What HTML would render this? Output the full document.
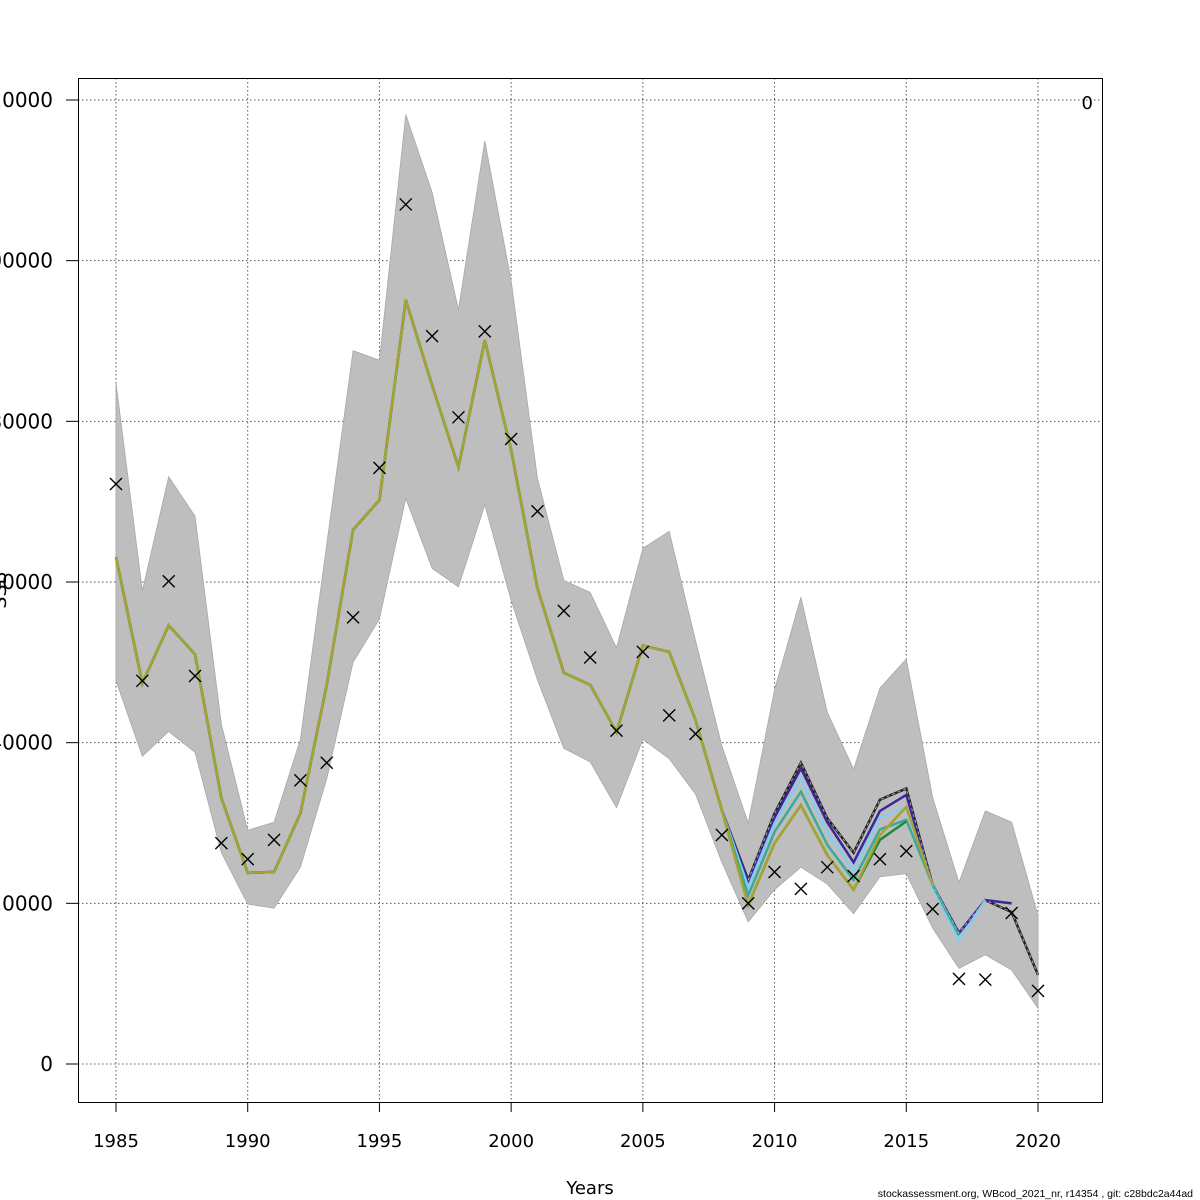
<!DOCTYPE html>
<html><head><meta charset="utf-8"><style>
html,body{margin:0;padding:0;background:#fff;}
svg{display:block;font-family:"DejaVu Sans","Liberation Sans",sans-serif;}
</style></head><body>
<svg id="chart" width="1200" height="1200" viewBox="0 0 1200 1200" xmlns="http://www.w3.org/2000/svg">
<rect width="1200" height="1200" fill="#fff"/>
<g id="grid"></g>
<g id="band"></g>
<g id="lines"></g>
<g id="obs"></g>
<g id="axes"></g>
<rect x="78.5" y="78.5" width="1024" height="1024" fill="none" stroke="#000" stroke-width="1"/>
<text x="1093" y="109" font-size="18" text-anchor="end">0</text>
<text x="590" y="1194" font-size="18" text-anchor="middle">Years</text>
<text transform="translate(6,590) rotate(-90)" font-size="19" text-anchor="middle">SSB</text>
<text x="1193" y="1197" font-size="10.5" text-anchor="end" font-family="Liberation Sans, sans-serif">stockassessment.org, WBcod_2021_nr, r14354 , git: c28bdc2a44ad</text>
</svg>
<script>
const NS="http://www.w3.org/2000/svg";
const years=[1985,1986,1987,1988,1989,1990,1991,1992,1993,1994,1995,1996,1997,1998,1999,2000,2001,2002,2003,2004,2005,2006,2007,2008,2009,2010,2011,2012,2013,2014,2015,2016,2017,2018,2019,2020];
const estimate=[63.1,47.4,54.6,51.0,33.1,23.8,23.9,31.2,47.2,66.5,70.2,95.1,84.5,74.3,90.1,76.4,59.2,48.7,47.2,41.3,52.1,51.3,42.8,31.6];
const upper=[84.8,58.9,73.1,68.2,42.3,29.1,30.1,40.4,64.7,88.8,87.6,118.2,108.5,93.9,114.9,97.5,72.9,60.2,58.7,51.8,64.2,66.3,52.7,39.6,30.0,46.6,58.1,43.8,36.7,46.8,50.4,33.2,22.6,31.5,30.1,18.5];
const lower=[47.7,38.3,41.4,38.8,26.3,19.9,19.4,24.5,35.5,50.0,55.4,70.4,61.7,59.4,69.6,57.7,47.8,39.3,37.6,31.9,40.4,38.0,33.6,25.1,17.7,21.7,24.5,22.4,18.7,23.3,23.7,16.9,11.9,13.6,11.7,6.95];
const observed=[72.2,47.7,60.1,48.3,27.5,25.5,27.9,35.3,37.5,55.6,74.2,107.0,90.6,80.5,91.2,77.8,68.8,56.4,50.6,41.5,51.3,43.4,41.1,28.5,20.0,23.9,21.8,24.5,23.4,25.5,26.5,19.3,10.6,10.5,18.8,9.1];
const runBlack=[22.9,31.2,37.5,30.6,26.3,32.9,34.3,22.3,16.3,20.4,18.9,11.1];
const runIndigo=[22.7,30.7,36.8,30.1,25.1,31.5,33.5,22.3,16.3,20.4,20.0];
const runLightBlue=[22.0,30.0,35.5,28.9,24.1,30.7,31.9,22.0,15.4,20.4];
const runTeal=[21.0,28.9,33.9,27.3,22.9,29.2,30.4,22.3,16.0];
const runOlive=[19.8,27.5,32.2,26.0,21.7,28.5,32.0,22.3];
const runGreen=[19.8,27.5,32.2,26.0,21.7,27.9,30.2];
const yTicks=[0,20,40,60,80,100,120];
const yTickLabels=["0","20000","40000","60000","80000","100000","120000"];
const xTicks=[1985,1990,1995,2000,2005,2010,2015,2020];

const xs=y=>116+(y-1985)*(922/35);
const ys=v=>1064-v*(964/120);
function mk(tag,attrs,parent){const e=document.createElementNS(NS,tag);for(const k in attrs)e.setAttribute(k,attrs[k]);parent.appendChild(e);return e;}
const grid=document.getElementById('grid'),axes=document.getElementById('axes');
xTicks.forEach(t=>{
  const l=mk('line',{x1:xs(t),x2:xs(t),y1:78,y2:1102,stroke:'#555','stroke-dasharray':'1.5,2.5','stroke-width':1},grid);
  
  
  const tk=mk('line',{x1:xs(t),x2:xs(t),y1:1102,y2:1112,stroke:'#000'},axes);
  
  
  const tx=mk('text',{x:xs(t),y:1147,'font-size':18,'text-anchor':'middle'},axes);
  tx.textContent=t;
  
  
});
yTicks.forEach((t,i)=>{
  const l=mk('line',{x1:78,x2:1102,y1:ys(t),y2:ys(t),stroke:'#555','stroke-dasharray':'1.5,2.5','stroke-width':1},grid);
  
  
  const tk=mk('line',{x1:66,x2:78,y1:ys(t),y2:ys(t),stroke:'#000'},axes);
  
  
  const tx=mk('text',{x:53,y:ys(t)+7,'font-size':20,'text-anchor':'end'},axes);
  tx.textContent=yTickLabels[i];
  
  
});
// band
let pts=years.map((y,i)=>xs(y)+','+ys(upper[i]));
for(let i=years.length-1;i>=0;i--)pts.push(xs(years[i])+','+ys(lower[i]));
const band=mk('polygon',{points:pts.join(' '),fill:'#bebebe',stroke:'#a8a8a8','stroke-width':0.8},document.getElementById('band'));


// lines
const lines=document.getElementById('lines');
function series(tail){return estimate.concat(tail);}
const base=series(runBlack);
const pb=mk('polyline',{points:base.map((v,i)=>xs(years[i])+','+ys(v)).join(' '),fill:'none',stroke:'#222','stroke-width':2.5},lines);


const runs=[
 {name:'retro-line-indigo',tail:runIndigo,c:'#3a2799'},
 {name:'retro-line-lightblue',tail:runLightBlue,c:'#86ccee'},
 {name:'retro-line-teal',tail:runTeal,c:'#3aab96'},
 {name:'retro-line-green',tail:runGreen,c:'#1a8a3a'},
 {name:'retro-line-olive',tail:runOlive,c:'#a8a230'},
];
runs.forEach(r=>{
  const s=series(r.tail);
  const p=mk('polyline',{points:s.map((v,i)=>xs(years[i])+','+ys(v)).join(' '),fill:'none',stroke:r.c,'stroke-width':2.5},lines);
  
  
});
const pd=mk('polyline',{points:base.slice(24).map((v,i)=>xs(years[i+24])+','+ys(v)).join(' '),fill:'none',stroke:'#aaa','stroke-width':1,'stroke-dasharray':'3,3'},lines);


// obs
const obs=document.getElementById('obs');
observed.forEach((v,i)=>{
  const x=xs(years[i]),y=ys(v),d=6;
  const p=mk('path',{d:`M${x-d},${y-d}L${x+d},${y+d}M${x-d},${y+d}L${x+d},${y-d}`,stroke:'#000','stroke-width':1.4,fill:'none'},obs);
  
  
});
</script>
</body></html>
